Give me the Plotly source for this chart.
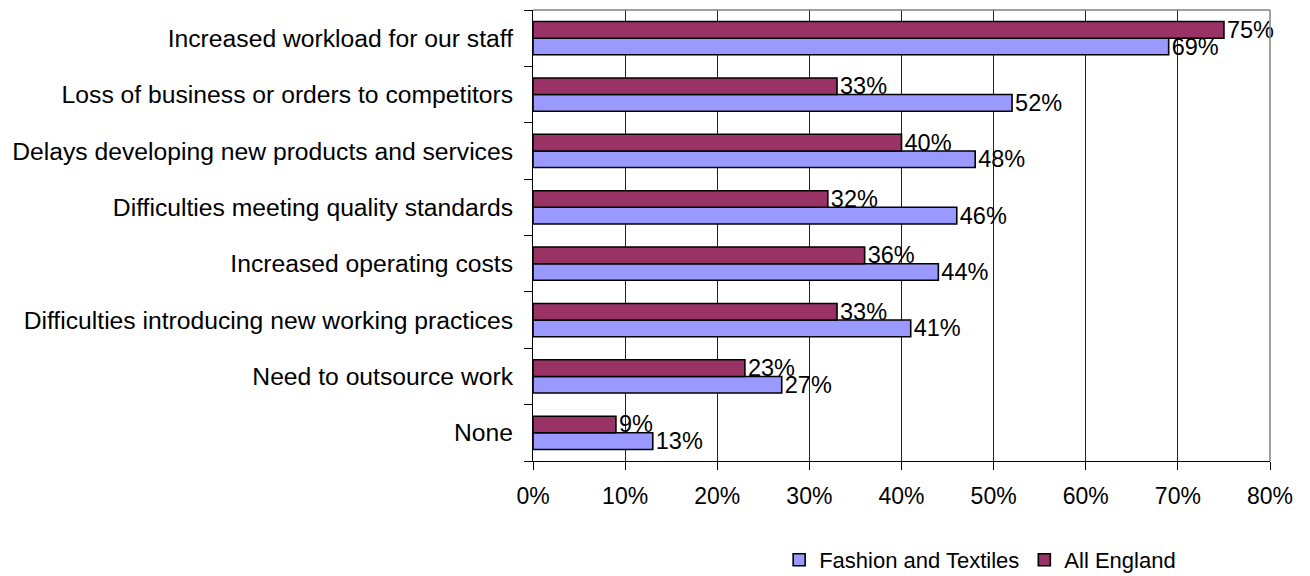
import plotly.graph_objects as go

# Impacts listed top to bottom as they appear on the chart
categories = [
    "Increased workload for our staff",
    "Loss of business or orders to competitors",
    "Delays developing new products and services",
    "Difficulties meeting quality standards",
    "Increased operating costs",
    "Difficulties introducing new working practices",
    "Need to outsource work",
    "None",
]
fashion_textiles = [69, 52, 48, 46, 44, 41, 27, 13]
all_england = [75, 33, 40, 32, 36, 33, 23, 9]
x_ticks = [0, 10, 20, 30, 40, 50, 60, 70, 80]
x_tick_labels = [f"{v}%" for v in x_ticks]

FONT = "Liberation Sans, Arial, sans-serif"

fig = go.Figure()
for name, vals, color in [
    ("Fashion and Textiles", fashion_textiles, "#9999FF"),
    ("All England", all_england, "#993366"),
]:
    fig.add_trace(go.Bar(
        name=name,
        y=categories,
        x=vals,
        orientation="h",
        marker=dict(color=color, line=dict(color="#000000", width=1.6)),
        text=[f"{v}%" for v in vals],
        textposition="outside",
        textfont=dict(family=FONT, size=23.5, color="#000000"),
        constraintext="none",
        cliponaxis=False,
    ))

fig.update_layout(
    width=1310,
    height=576,
    margin=dict(l=533, r=40, t=10, b=115, autoexpand=False),
    paper_bgcolor="#FFFFFF",
    plot_bgcolor="#FFFFFF",
    barmode="group",
    bargap=0.41,
    bargroupgap=0,
    font=dict(family=FONT, size=23, color="#000000"),
    showlegend=True,
    legend=dict(
        orientation="h",
        x=0.334, xanchor="left",
        y=-0.2195, yanchor="middle",
        font=dict(family=FONT, size=22, color="#000000"),
        itemwidth=30,
        traceorder="normal",
        bgcolor="rgba(0,0,0,0)",
    ),
    xaxis=dict(
        range=[0, 80],
        tickvals=x_ticks,
        ticktext=x_tick_labels,
        tickfont=dict(family=FONT, size=23),
        showgrid=True,
        gridcolor="#222222",
        gridwidth=1,
        showline=True,
        linecolor="#000000",
        linewidth=1,
        ticks="outside",
        ticklen=8,
        tickcolor="#000000",
        ticklabelstandoff=6,
        zeroline=False,
        fixedrange=True,
    ),
    yaxis=dict(
        categoryorder="array",
        categoryarray=list(reversed(categories)),
        tickfont=dict(family=FONT, size=24.7),
        showgrid=False,
        showline=True,
        linecolor="#000000",
        linewidth=1,
        ticks="outside",
        tickson="boundaries",
        ticklen=8,
        tickcolor="#000000",
        ticklabelstandoff=14,
        fixedrange=True,
    ),
)

# Grey frame on the top and right edges of the plot area
fig.add_shape(type="line", xref="paper", yref="paper", x0=0, x1=1, y0=1, y1=1,
              line=dict(color="#808080", width=1.5), layer="above")
fig.add_shape(type="line", xref="paper", yref="paper", x0=1, x1=1, y0=0, y1=1,
              line=dict(color="#808080", width=1.5), layer="above")

fig.write_html("out.html")
